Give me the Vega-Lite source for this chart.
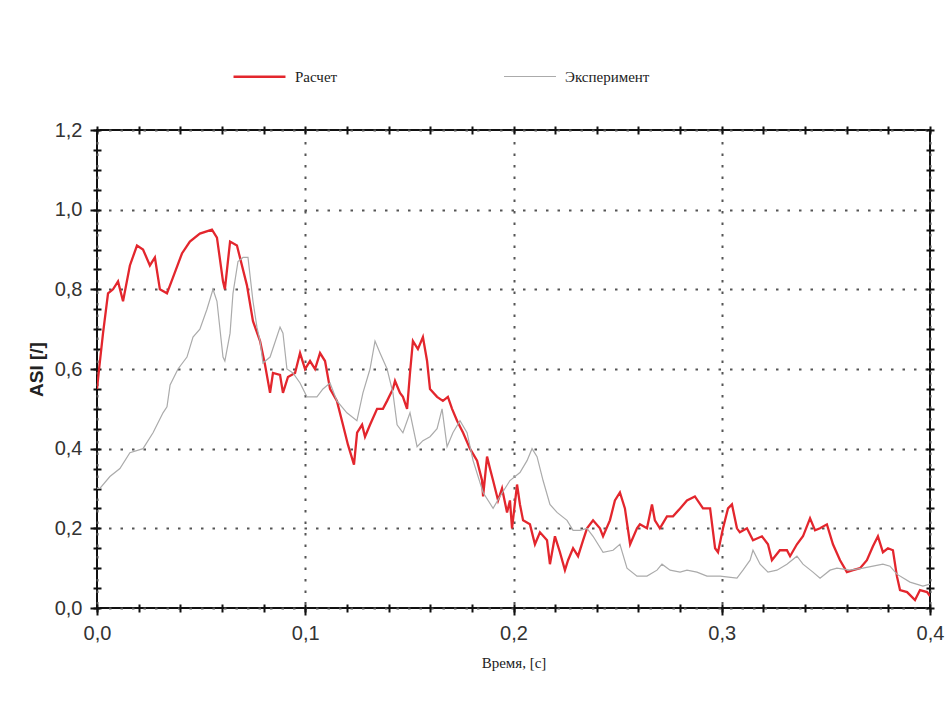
{
  "$schema": "https://vega.github.io/schema/vega-lite/v6.json",
  "width": 833,
  "height": 478,
  "autosize": {"type": "none"},
  "padding": {"left": 97, "top": 130, "right": 17, "bottom": 94},
  "background": "white",
  "config": {
    "view": {"stroke": "#111", "strokeWidth": 2},
    "axis": {"labelFont": "Liberation Sans", "labelColor": "#333", "titleColor": "#222"}
  },
  "data": {"values": [
    {"t":0,"v":0.55,"s":"Расчет"},{"t":0.001,"v":0.6,"s":"Расчет"},{"t":0.0029,"v":0.69,"s":"Расчет"},{"t":0.0053,"v":0.79,"s":"Расчет"},{"t":0.0077,"v":0.8,"s":"Расчет"},{"t":0.0101,"v":0.82,"s":"Расчет"},{"t":0.0125,"v":0.77,"s":"Расчет"},{"t":0.0158,"v":0.86,"s":"Расчет"},{"t":0.0192,"v":0.91,"s":"Расчет"},{"t":0.0221,"v":0.9,"s":"Расчет"},{"t":0.0254,"v":0.86,"s":"Расчет"},{"t":0.0278,"v":0.88,"s":"Расчет"},{"t":0.0302,"v":0.8,"s":"Расчет"},{"t":0.0336,"v":0.79,"s":"Расчет"},{"t":0.0365,"v":0.83,"s":"Расчет"},{"t":0.0408,"v":0.89,"s":"Расчет"},{"t":0.0446,"v":0.92,"s":"Расчет"},{"t":0.0494,"v":0.94,"s":"Расчет"},{"t":0.0552,"v":0.95,"s":"Расчет"},{"t":0.0576,"v":0.93,"s":"Расчет"},{"t":0.0605,"v":0.82,"s":"Расчет"},{"t":0.0614,"v":0.8,"s":"Расчет"},{"t":0.0639,"v":0.92,"s":"Расчет"},{"t":0.0672,"v":0.91,"s":"Расчет"},{"t":0.072,"v":0.81,"s":"Расчет"},{"t":0.0749,"v":0.72,"s":"Расчет"},{"t":0.0783,"v":0.67,"s":"Расчет"},{"t":0.0807,"v":0.61,"s":"Расчет"},{"t":0.0831,"v":0.54,"s":"Расчет"},{"t":0.0845,"v":0.59,"s":"Расчет"},{"t":0.0879,"v":0.585,"s":"Расчет"},{"t":0.0893,"v":0.54,"s":"Расчет"},{"t":0.0917,"v":0.58,"s":"Расчет"},{"t":0.0951,"v":0.59,"s":"Расчет"},{"t":0.0975,"v":0.64,"s":"Расчет"},{"t":0.0999,"v":0.6,"s":"Расчет"},{"t":0.1023,"v":0.62,"s":"Расчет"},{"t":0.1047,"v":0.6,"s":"Расчет"},{"t":0.1071,"v":0.64,"s":"Расчет"},{"t":0.1095,"v":0.62,"s":"Расчет"},{"t":0.1119,"v":0.55,"s":"Расчет"},{"t":0.1152,"v":0.52,"s":"Расчет"},{"t":0.1181,"v":0.46,"s":"Расчет"},{"t":0.1205,"v":0.41,"s":"Расчет"},{"t":0.1234,"v":0.36,"s":"Расчет"},{"t":0.1249,"v":0.44,"s":"Расчет"},{"t":0.1273,"v":0.46,"s":"Расчет"},{"t":0.1287,"v":0.43,"s":"Расчет"},{"t":0.1311,"v":0.46,"s":"Расчет"},{"t":0.1345,"v":0.5,"s":"Расчет"},{"t":0.1373,"v":0.5,"s":"Расчет"},{"t":0.1393,"v":0.52,"s":"Расчет"},{"t":0.1421,"v":0.55,"s":"Расчет"},{"t":0.1431,"v":0.57,"s":"Расчет"},{"t":0.1455,"v":0.54,"s":"Расчет"},{"t":0.1469,"v":0.53,"s":"Расчет"},{"t":0.1489,"v":0.5,"s":"Расчет"},{"t":0.1503,"v":0.59,"s":"Расчет"},{"t":0.1517,"v":0.67,"s":"Расчет"},{"t":0.1541,"v":0.65,"s":"Расчет"},{"t":0.1565,"v":0.68,"s":"Расчет"},{"t":0.1585,"v":0.62,"s":"Расчет"},{"t":0.1599,"v":0.55,"s":"Расчет"},{"t":0.1633,"v":0.53,"s":"Расчет"},{"t":0.1661,"v":0.52,"s":"Расчет"},{"t":0.1685,"v":0.53,"s":"Расчет"},{"t":0.1705,"v":0.5,"s":"Расчет"},{"t":0.1729,"v":0.47,"s":"Расчет"},{"t":0.1758,"v":0.44,"s":"Расчет"},{"t":0.1791,"v":0.4,"s":"Расчет"},{"t":0.1825,"v":0.37,"s":"Расчет"},{"t":0.1849,"v":0.32,"s":"Расчет"},{"t":0.1854,"v":0.28,"s":"Расчет"},{"t":0.1873,"v":0.38,"s":"Расчет"},{"t":0.1887,"v":0.35,"s":"Расчет"},{"t":0.1902,"v":0.32,"s":"Расчет"},{"t":0.1926,"v":0.27,"s":"Расчет"},{"t":0.1945,"v":0.3,"s":"Расчет"},{"t":0.1969,"v":0.24,"s":"Расчет"},{"t":0.1983,"v":0.27,"s":"Расчет"},{"t":0.1993,"v":0.2,"s":"Расчет"},{"t":0.2017,"v":0.31,"s":"Расчет"},{"t":0.2031,"v":0.26,"s":"Расчет"},{"t":0.2046,"v":0.22,"s":"Расчет"},{"t":0.2079,"v":0.21,"s":"Расчет"},{"t":0.2103,"v":0.16,"s":"Расчет"},{"t":0.2127,"v":0.19,"s":"Расчет"},{"t":0.2161,"v":0.17,"s":"Расчет"},{"t":0.2175,"v":0.11,"s":"Расчет"},{"t":0.2199,"v":0.18,"s":"Расчет"},{"t":0.2223,"v":0.14,"s":"Расчет"},{"t":0.2247,"v":0.095,"s":"Расчет"},{"t":0.2262,"v":0.12,"s":"Расчет"},{"t":0.2286,"v":0.15,"s":"Расчет"},{"t":0.231,"v":0.13,"s":"Расчет"},{"t":0.2334,"v":0.17,"s":"Расчет"},{"t":0.2353,"v":0.2,"s":"Расчет"},{"t":0.2382,"v":0.22,"s":"Расчет"},{"t":0.2415,"v":0.2,"s":"Расчет"},{"t":0.243,"v":0.18,"s":"Расчет"},{"t":0.2463,"v":0.22,"s":"Расчет"},{"t":0.2487,"v":0.27,"s":"Расчет"},{"t":0.2511,"v":0.29,"s":"Расчет"},{"t":0.2535,"v":0.25,"s":"Расчет"},{"t":0.256,"v":0.16,"s":"Расчет"},{"t":0.2593,"v":0.2,"s":"Расчет"},{"t":0.2607,"v":0.21,"s":"Расчет"},{"t":0.2641,"v":0.2,"s":"Расчет"},{"t":0.2665,"v":0.26,"s":"Расчет"},{"t":0.2679,"v":0.22,"s":"Расчет"},{"t":0.2703,"v":0.2,"s":"Расчет"},{"t":0.2737,"v":0.23,"s":"Расчет"},{"t":0.2766,"v":0.23,"s":"Расчет"},{"t":0.28,"v":0.25,"s":"Расчет"},{"t":0.2833,"v":0.27,"s":"Расчет"},{"t":0.2871,"v":0.28,"s":"Расчет"},{"t":0.291,"v":0.25,"s":"Расчет"},{"t":0.2944,"v":0.25,"s":"Расчет"},{"t":0.2968,"v":0.15,"s":"Расчет"},{"t":0.2982,"v":0.14,"s":"Расчет"},{"t":0.3006,"v":0.2,"s":"Расчет"},{"t":0.303,"v":0.25,"s":"Расчет"},{"t":0.3049,"v":0.26,"s":"Расчет"},{"t":0.3073,"v":0.2,"s":"Расчет"},{"t":0.3087,"v":0.19,"s":"Расчет"},{"t":0.3121,"v":0.2,"s":"Расчет"},{"t":0.315,"v":0.17,"s":"Расчет"},{"t":0.3193,"v":0.18,"s":"Расчет"},{"t":0.3222,"v":0.16,"s":"Расчет"},{"t":0.3241,"v":0.12,"s":"Расчет"},{"t":0.3279,"v":0.145,"s":"Расчет"},{"t":0.3313,"v":0.145,"s":"Расчет"},{"t":0.3328,"v":0.13,"s":"Расчет"},{"t":0.3361,"v":0.16,"s":"Расчет"},{"t":0.339,"v":0.18,"s":"Расчет"},{"t":0.3424,"v":0.225,"s":"Расчет"},{"t":0.3448,"v":0.195,"s":"Расчет"},{"t":0.3472,"v":0.2,"s":"Расчет"},{"t":0.3505,"v":0.21,"s":"Расчет"},{"t":0.3534,"v":0.16,"s":"Расчет"},{"t":0.3568,"v":0.12,"s":"Расчет"},{"t":0.3601,"v":0.09,"s":"Расчет"},{"t":0.363,"v":0.095,"s":"Расчет"},{"t":0.3664,"v":0.1,"s":"Расчет"},{"t":0.3697,"v":0.12,"s":"Расчет"},{"t":0.3726,"v":0.155,"s":"Расчет"},{"t":0.375,"v":0.18,"s":"Расчет"},{"t":0.3774,"v":0.14,"s":"Расчет"},{"t":0.3798,"v":0.15,"s":"Расчет"},{"t":0.3822,"v":0.145,"s":"Расчет"},{"t":0.3841,"v":0.08,"s":"Расчет"},{"t":0.3856,"v":0.045,"s":"Расчет"},{"t":0.389,"v":0.04,"s":"Расчет"},{"t":0.3928,"v":0.02,"s":"Расчет"},{"t":0.3952,"v":0.045,"s":"Расчет"},{"t":0.3986,"v":0.04,"s":"Расчет"},{"t":0.4,"v":0.03,"s":"Расчет"},
    {"t":0,"v":0.3,"s":"Эксперимент"},{"t":0.0014,"v":0.3,"s":"Эксперимент"},{"t":0.0062,"v":0.33,"s":"Эксперимент"},{"t":0.011,"v":0.35,"s":"Эксперимент"},{"t":0.0158,"v":0.39,"s":"Эксперимент"},{"t":0.0221,"v":0.4,"s":"Эксперимент"},{"t":0.0269,"v":0.44,"s":"Эксперимент"},{"t":0.0317,"v":0.49,"s":"Эксперимент"},{"t":0.0336,"v":0.505,"s":"Эксперимент"},{"t":0.0351,"v":0.56,"s":"Эксперимент"},{"t":0.0389,"v":0.6,"s":"Эксперимент"},{"t":0.0432,"v":0.63,"s":"Эксперимент"},{"t":0.0461,"v":0.68,"s":"Эксперимент"},{"t":0.0494,"v":0.7,"s":"Эксперимент"},{"t":0.0528,"v":0.75,"s":"Эксперимент"},{"t":0.0557,"v":0.8,"s":"Эксперимент"},{"t":0.0576,"v":0.77,"s":"Эксперимент"},{"t":0.0605,"v":0.63,"s":"Эксперимент"},{"t":0.0614,"v":0.62,"s":"Эксперимент"},{"t":0.0639,"v":0.69,"s":"Эксперимент"},{"t":0.0653,"v":0.79,"s":"Эксперимент"},{"t":0.0677,"v":0.87,"s":"Эксперимент"},{"t":0.0701,"v":0.88,"s":"Эксперимент"},{"t":0.0725,"v":0.88,"s":"Эксперимент"},{"t":0.0749,"v":0.77,"s":"Эксперимент"},{"t":0.0768,"v":0.705,"s":"Эксперимент"},{"t":0.0783,"v":0.67,"s":"Эксперимент"},{"t":0.0797,"v":0.615,"s":"Эксперимент"},{"t":0.0831,"v":0.63,"s":"Эксперимент"},{"t":0.0879,"v":0.705,"s":"Эксперимент"},{"t":0.0893,"v":0.69,"s":"Эксперимент"},{"t":0.0912,"v":0.6,"s":"Эксперимент"},{"t":0.0941,"v":0.59,"s":"Эксперимент"},{"t":0.0975,"v":0.565,"s":"Эксперимент"},{"t":0.1008,"v":0.53,"s":"Эксперимент"},{"t":0.1056,"v":0.53,"s":"Эксперимент"},{"t":0.1085,"v":0.55,"s":"Эксперимент"},{"t":0.1119,"v":0.565,"s":"Эксперимент"},{"t":0.1152,"v":0.52,"s":"Эксперимент"},{"t":0.12,"v":0.49,"s":"Эксперимент"},{"t":0.1248,"v":0.47,"s":"Эксперимент"},{"t":0.1277,"v":0.54,"s":"Эксперимент"},{"t":0.1311,"v":0.6,"s":"Эксперимент"},{"t":0.1335,"v":0.67,"s":"Эксперимент"},{"t":0.1359,"v":0.64,"s":"Эксперимент"},{"t":0.1393,"v":0.6,"s":"Эксперимент"},{"t":0.1421,"v":0.54,"s":"Эксперимент"},{"t":0.1441,"v":0.46,"s":"Эксперимент"},{"t":0.1469,"v":0.44,"s":"Эксперимент"},{"t":0.1503,"v":0.49,"s":"Эксперимент"},{"t":0.1537,"v":0.405,"s":"Эксперимент"},{"t":0.1565,"v":0.42,"s":"Эксперимент"},{"t":0.1599,"v":0.43,"s":"Эксперимент"},{"t":0.1633,"v":0.45,"s":"Эксперимент"},{"t":0.1657,"v":0.5,"s":"Эксперимент"},{"t":0.1681,"v":0.405,"s":"Эксперимент"},{"t":0.1709,"v":0.44,"s":"Эксперимент"},{"t":0.1743,"v":0.47,"s":"Эксперимент"},{"t":0.1777,"v":0.44,"s":"Эксперимент"},{"t":0.1806,"v":0.37,"s":"Эксперимент"},{"t":0.1854,"v":0.29,"s":"Эксперимент"},{"t":0.1902,"v":0.25,"s":"Эксперимент"},{"t":0.1935,"v":0.28,"s":"Эксперимент"},{"t":0.1983,"v":0.32,"s":"Эксперимент"},{"t":0.2031,"v":0.34,"s":"Эксперимент"},{"t":0.2065,"v":0.37,"s":"Эксперимент"},{"t":0.2089,"v":0.4,"s":"Эксперимент"},{"t":0.2113,"v":0.38,"s":"Эксперимент"},{"t":0.2142,"v":0.32,"s":"Эксперимент"},{"t":0.2175,"v":0.26,"s":"Эксперимент"},{"t":0.2209,"v":0.24,"s":"Эксперимент"},{"t":0.2257,"v":0.22,"s":"Эксперимент"},{"t":0.2286,"v":0.195,"s":"Эксперимент"},{"t":0.2319,"v":0.195,"s":"Эксперимент"},{"t":0.2353,"v":0.2,"s":"Эксперимент"},{"t":0.2382,"v":0.18,"s":"Эксперимент"},{"t":0.243,"v":0.14,"s":"Эксперимент"},{"t":0.2478,"v":0.145,"s":"Эксперимент"},{"t":0.2511,"v":0.16,"s":"Эксперимент"},{"t":0.2545,"v":0.1,"s":"Эксперимент"},{"t":0.2593,"v":0.08,"s":"Эксперимент"},{"t":0.2641,"v":0.08,"s":"Эксперимент"},{"t":0.2689,"v":0.095,"s":"Эксперимент"},{"t":0.2713,"v":0.11,"s":"Эксперимент"},{"t":0.2752,"v":0.095,"s":"Эксперимент"},{"t":0.28,"v":0.09,"s":"Эксперимент"},{"t":0.2833,"v":0.095,"s":"Эксперимент"},{"t":0.2881,"v":0.09,"s":"Эксперимент"},{"t":0.2929,"v":0.08,"s":"Эксперимент"},{"t":0.2992,"v":0.08,"s":"Эксперимент"},{"t":0.3073,"v":0.075,"s":"Эксперимент"},{"t":0.3102,"v":0.095,"s":"Эксперимент"},{"t":0.3136,"v":0.12,"s":"Эксперимент"},{"t":0.315,"v":0.145,"s":"Эксперимент"},{"t":0.3184,"v":0.11,"s":"Эксперимент"},{"t":0.3222,"v":0.09,"s":"Эксперимент"},{"t":0.3265,"v":0.095,"s":"Эксперимент"},{"t":0.3313,"v":0.11,"s":"Эксперимент"},{"t":0.3361,"v":0.13,"s":"Эксперимент"},{"t":0.339,"v":0.11,"s":"Эксперимент"},{"t":0.3438,"v":0.09,"s":"Эксперимент"},{"t":0.3472,"v":0.075,"s":"Эксперимент"},{"t":0.352,"v":0.095,"s":"Эксперимент"},{"t":0.3553,"v":0.1,"s":"Эксперимент"},{"t":0.3616,"v":0.095,"s":"Эксперимент"},{"t":0.3678,"v":0.1,"s":"Эксперимент"},{"t":0.3726,"v":0.105,"s":"Эксперимент"},{"t":0.3774,"v":0.11,"s":"Эксперимент"},{"t":0.3808,"v":0.105,"s":"Эксперимент"},{"t":0.3841,"v":0.085,"s":"Эксперимент"},{"t":0.3904,"v":0.065,"s":"Эксперимент"},{"t":0.3966,"v":0.055,"s":"Эксперимент"},{"t":0.4,"v":0.06,"s":"Эксперимент"}
  ]},
  "layer": [
    {
      "mark": {"type": "line", "clip": true},
      "encoding": {
        "x": {"field": "t", "type": "quantitative",
          "scale": {"domain": [0, 0.4], "nice": false, "zero": false},
          "axis": {"orient": "bottom", "values": [0, 0.1, 0.2, 0.3, 0.4], "grid": true, "gridDash": [2.5, 9], "gridColor": "#555", "gridWidth": 2,
            "domain": false, "ticks": true, "tickSize": 7, "tickWidth": 2, "tickColor": "#111",
            "labelFontSize": 20, "labelPadding": 8, "labelFlush": false,
            "labelExpr": "replace(format(datum.value, '.1f'), '.', ',')",
            "title": "Время, [c]", "titleFont": "Liberation Serif", "titleFontSize": 15, "titleFontWeight": "normal", "titlePadding": 12}},
        "y": {"field": "v", "type": "quantitative",
          "scale": {"domain": [0, 1.2], "nice": false},
          "axis": {"orient": "left", "values": [0, 0.2, 0.4, 0.6, 0.8, 1.0, 1.2], "grid": true, "gridDash": [2.5, 9], "gridColor": "#555", "gridWidth": 2,
            "domain": false, "ticks": true, "tickSize": 7, "tickWidth": 2, "tickColor": "#111",
            "labelFontSize": 20, "labelPadding": 8, "labelFlush": false,
            "labelExpr": "replace(format(datum.value, '.1f'), '.', ',')",
            "title": "ASI [/]", "titleFont": "Liberation Sans", "titleFontSize": 19, "titleFontWeight": "bold", "titlePadding": 8}},
        "color": {"field": "s", "type": "nominal",
          "scale": {"domain": ["Расчет", "Эксперимент"], "range": ["#e3262d", "#ababab"]},
          "legend": {"orient": "none", "legendX": 135, "legendY": -81, "direction": "horizontal", "title": null,
            "symbolType": "stroke", "symbolSize": 2700, "symbolStrokeWidth": 2, "labelFont": "Liberation Serif", "labelFontSize": 15, "labelColor": "#222", "labelOffset": 8, "columnPadding": 163, "padding": 0}},
        "strokeWidth": {"field": "s", "type": "nominal", "scale": {"domain": ["Расчет", "Эксперимент"], "range": [2.3, 1.2]}, "legend": null},
        "order": {"field": "s", "sort": "descending"}
      }
    },
    {
      "mark": {"type": "point", "opacity": 0},
      "encoding": {
        "x": {"field": "t", "type": "quantitative",
          "axis": {"orient": "bottom", "values": [0, 0.02, 0.04, 0.06, 0.08, 0.1, 0.12, 0.14, 0.16, 0.18, 0.2, 0.22, 0.24, 0.26, 0.28, 0.3, 0.32, 0.34, 0.36, 0.38, 0.4],
            "labels": false, "domain": false, "grid": false, "title": null, "offset": -4, "tickSize": 8, "tickWidth": 2, "tickColor": "#111"}},
        "y": {"field": "v", "type": "quantitative",
          "axis": {"orient": "left", "values": [0, 0.05, 0.1, 0.15, 0.2, 0.25, 0.3, 0.35, 0.4, 0.45, 0.5, 0.55, 0.6, 0.65, 0.7, 0.75, 0.8, 0.85, 0.9, 0.95, 1.0, 1.05, 1.1, 1.15, 1.2],
            "labels": false, "domain": false, "grid": false, "title": null, "offset": -4, "tickSize": 8, "tickWidth": 2, "tickColor": "#111"}}
      }
    },
    {
      "mark": {"type": "point", "opacity": 0},
      "encoding": {
        "x": {"field": "t", "type": "quantitative",
          "axis": {"orient": "top", "values": [0, 0.02, 0.04, 0.06, 0.08, 0.1, 0.12, 0.14, 0.16, 0.18, 0.2, 0.22, 0.24, 0.26, 0.28, 0.3, 0.32, 0.34, 0.36, 0.38, 0.4],
            "labels": false, "domain": false, "grid": false, "title": null, "offset": -4, "tickSize": 8, "tickWidth": 2, "tickColor": "#111"}},
        "y": {"field": "v", "type": "quantitative",
          "axis": {"orient": "right", "values": [0, 0.05, 0.1, 0.15, 0.2, 0.25, 0.3, 0.35, 0.4, 0.45, 0.5, 0.55, 0.6, 0.65, 0.7, 0.75, 0.8, 0.85, 0.9, 0.95, 1.0, 1.05, 1.1, 1.15, 1.2],
            "labels": false, "domain": false, "grid": false, "title": null, "offset": -4, "tickSize": 8, "tickWidth": 2, "tickColor": "#111"}}
      }
    }
  ],
  "resolve": {"axis": {"x": "independent", "y": "independent"}}
}
